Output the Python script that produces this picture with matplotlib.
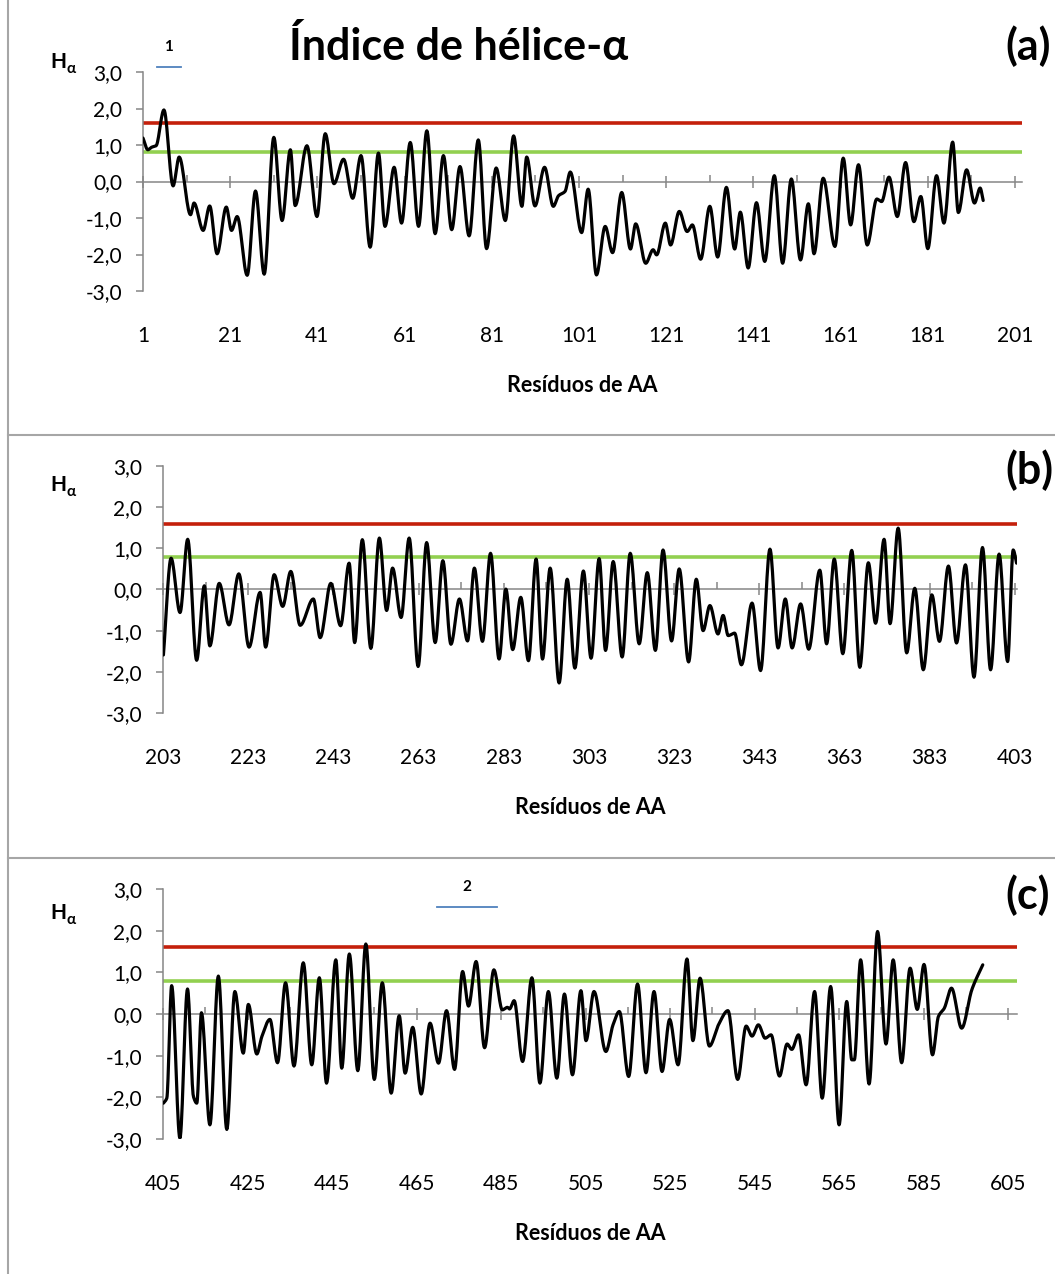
import numpy as np
import matplotlib
matplotlib.use("Agg")
import matplotlib.pyplot as plt
from matplotlib.lines import Line2D
from matplotlib.ticker import FixedLocator

plt.rcParams["font.family"] = ["Lato", "DejaVu Sans"]

# ---- data (peaks / troughs of the smoothed profile) ----
res_a = [1, 2.1, 3.0, 4.0, 5.8, 7.9, 9.3, 11.9, 12.7, 14.8, 16.3, 18.0, 20.1, 21.3, 22.6,
         24.9, 26.8, 28.8, 31.0, 32.9, 34.8, 35.9, 38.6, 40.9, 42.8, 44.8, 47.0, 49.1,
         51.0, 53.1, 55.0, 56.5, 58.6, 60.3, 62.3, 64.2, 66.1, 68.0, 69.9, 71.8, 73.7,
         75.8, 77.9, 79.8, 82.0, 84.1, 86.0, 87.9, 89.0, 90.9, 93.1, 95.1, 96.3, 97.8,
         99.0, 101.6, 103.1, 105.0, 107.0, 108.7, 110.8, 112.8, 114.0, 116.3, 118.0,
         118.8, 120.8, 122.0, 124.0, 125.8, 127.0, 128.9, 131.0, 132.8, 134.8, 136.7,
         138.0, 139.8, 141.7, 143.6, 145.8, 147.7, 149.7, 151.8, 153.6, 154.9, 157.0,
         159.7, 161.6, 163.3, 165.1, 167.1, 169.3, 170.4, 172.1, 174.0, 175.9, 177.8,
         179.4, 181.0, 183.0, 184.7, 186.7, 188.0, 189.9, 191.7, 193.0, 193.7]
h_a = [1.19, 0.87, 0.94, 0.98, 1.96, -0.12, 0.67, -0.91, -0.59, -1.34, -0.67, -1.98,
       -0.70, -1.34, -0.96, -2.57, -0.26, -2.54, 1.21, -1.07, 0.87, -0.66, 0.98, -0.96,
       1.31, -0.06, 0.61, -0.46, 0.71, -1.80, 0.78, -1.23, 0.39, -1.14, 1.07, -1.23,
       1.39, -1.43, 0.71, -1.32, 0.41, -1.49, 1.14, -1.84, 0.37, -1.07, 1.25, -0.68,
       0.67, -0.67, 0.39, -0.68, -0.39, -0.27, 0.26, -1.40, -0.21, -2.56, -1.23, -1.95,
       -0.30, -1.85, -1.16, -2.24, -1.87, -2.01, -1.14, -1.74, -0.82, -1.37, -1.19,
       -2.13, -0.68, -2.07, -0.16, -1.85, -0.84, -2.37, -0.58, -2.19, 0.16, -2.24, 0.07,
       -2.15, -0.61, -1.98, 0.09, -1.78, 0.64, -1.19, 0.46, -1.74, -0.48, -0.55, 0.12,
       -0.96, 0.52, -1.10, -0.41, -1.84, 0.16, -1.14, 1.08, -0.85, 0.32, -0.59, -0.18,
       -0.52]

res_b = [203.1, 204.9, 207.0, 208.8, 210.9, 212.7, 214.0, 216.2, 218.5, 220.8, 223.2,
         225.8, 227.1, 229.1, 231.1, 233.0, 235.2, 238.3, 239.9, 242.4, 244.7, 246.7,
         248.0, 249.8, 251.8, 253.8, 255.5, 256.9, 258.9, 260.8, 262.9, 264.9, 266.9,
         268.7, 270.6, 272.6, 274.5, 276.1, 278.0, 279.9, 281.9, 283.5, 285.1, 287.0,
         288.8, 290.6, 292.1, 293.9, 296.0, 297.9, 299.7, 301.7, 303.5, 305.4, 306.9,
         308.7, 310.8, 312.7, 314.8, 316.7, 318.6, 320.4, 322.4, 324.2, 326.4, 328.2,
         329.8, 331.4, 333.3, 334.5, 335.7, 337.2, 338.8, 341.3, 343.3, 345.5, 347.4,
         349.1, 350.7, 352.7, 354.6, 357.2, 358.8, 360.6, 362.6, 364.7, 366.6, 368.6,
         370.3, 372.3, 373.7, 375.6, 377.6, 379.5, 381.5, 383.5, 385.3, 387.4, 389.3,
         391.4, 393.4, 395.4, 397.3, 399.3, 401.3, 402.6, 403.4]
h_b = [-1.59, 0.76, -0.56, 1.22, -1.72, 0.09, -1.37, 0.15, -0.86, 0.38, -1.40, -0.07,
       -1.40, 0.36, -0.41, 0.44, -0.87, -0.23, -1.17, 0.15, -0.88, 0.64, -1.29, 1.21,
       -1.43, 1.25, -0.51, 0.52, -0.68, 1.25, -1.87, 1.14, -1.29, 0.70, -1.33, -0.23,
       -1.25, 0.52, -1.26, 0.88, -1.69, 0.01, -1.46, -0.19, -1.73, 0.74, -1.69, 0.52,
       -2.27, 0.25, -1.91, 0.45, -1.67, 0.75, -1.48, 0.68, -1.64, 0.88, -1.32, 0.41,
       -1.48, 0.96, -1.25, 0.50, -1.76, 0.25, -1.00, -0.39, -1.08, -0.63, -1.12, -1.06,
       -1.83, -0.33, -1.97, 0.98, -1.42, -0.23, -1.42, -0.35, -1.45, 0.47, -1.32, 0.74,
       -1.56, 0.95, -1.89, 0.65, -0.82, 1.22, -0.83, 1.49, -1.54, 0.03, -1.95, -0.13,
       -1.26, 0.57, -1.30, 0.60, -2.13, 1.02, -1.95, 0.86, -1.75, 0.96, 0.64]

res_c = [405.1, 405.9, 407.05, 409.0, 410.8, 412.2, 413.0, 414.1, 416.1, 418.1, 420.1,
         422.0, 424.0, 425.2, 427.2, 428.4, 430.3, 432.1, 434.0, 436.0, 438.2, 440.2,
         442.0, 443.7, 445.9, 447.3, 449.1, 451.1, 453.0, 455.0, 456.9, 459.0, 460.9,
         462.3, 464.1, 466.1, 468.2, 470.2, 472.1, 474.0, 475.9, 477.3, 479.1, 481.1,
         483.3, 485.3, 486.5, 487.0, 488.1, 490.1, 492.3, 494.2, 496.2, 498.2, 500.0,
         501.9, 503.9, 505.1, 507.0, 509.8, 511.5, 513.0, 515.2, 517.3, 519.3, 521.2,
         523.1, 524.9, 526.9, 529.0, 530.4, 532.1, 534.3, 536.5, 538.7, 541.0, 543.0,
         544.4, 545.9, 547.5, 548.9, 550.9, 552.7, 553.8, 555.4, 557.2, 559.2, 561.0,
         563.0, 565.0, 566.8, 568.0, 568.6, 570.1, 572.1, 574.1, 576.1, 577.8, 579.8,
         581.8, 583.5, 585.1, 587.1, 588.5, 589.9, 591.6, 594.0, 596.4, 599.0]
h_c = [-2.14, -2.02, 0.68, -2.98, 0.60, -1.98, -2.14, 0.03, -2.66, 0.91, -2.77, 0.54,
       -0.94, 0.23, -0.96, -0.54, -0.13, -1.17, 0.75, -1.25, 1.23, -1.22, 0.87, -1.66,
       1.30, -1.30, 1.44, -1.36, 1.68, -1.57, 0.75, -1.90, -0.04, -1.42, -0.32, -1.92,
       -0.22, -1.18, 0.08, -1.33, 1.02, 0.19, 1.26, -0.81, 1.06, 0.10, 0.16, 0.12, 0.32,
       -1.14, 0.87, -1.66, 0.54, -1.54, 0.48, -1.46, 0.56, -0.64, 0.54, -0.90, -0.26,
       0.06, -1.50, 0.72, -1.41, 0.54, -1.38, -0.13, -1.22, 1.32, -0.64, 0.86, -0.77,
       -0.25, 0.08, -1.57, -0.29, -0.53, -0.26, -0.58, -0.50, -1.49, -0.72, -0.85, -0.50,
       -1.70, 0.54, -2.02, 0.66, -2.66, 0.30, -1.10, -1.10, 1.30, -1.68, 1.98, -0.72,
       1.30, -1.17, 1.10, 0.11, 1.19, -0.98, -0.06, 0.14, 0.62, -0.34, 0.58, 1.18]

red_level = 1.6
green_level = 0.8
ytick_vals = [-3, -2, -1, 0, 1, 2, 3]

# helix segments marked above the plots (residue span, height, label)
seg1_span, seg1_h, seg1_label = [4.1, 9.7], 3.14, "1"
seg2_span, seg2_h, seg2_label = [469.9, 484.0], 2.57, "2"

RED, GREEN, BLUE, GRAY = "#C4200B", "#92D050", "#4F81BD", "#868686"
W, H = 1055, 1274


def smooth(x, y, n=16):
    """Monotone cubic (PCHIP-like) through the read points, like Excel's smoothed line."""
    x = np.asarray(x, float); y = np.asarray(y, float)
    h = np.diff(x); d = np.diff(y) / h
    m = np.zeros_like(y)
    m[0], m[-1] = d[0], d[-1]
    for i in range(1, len(y) - 1):
        if d[i - 1] * d[i] > 0:
            w1, w2 = 2 * h[i] + h[i - 1], h[i] + 2 * h[i - 1]
            m[i] = (w1 + w2) / (w1 / d[i - 1] + w2 / d[i])
    xs, ys = [], []
    t = np.linspace(0, 1, n, endpoint=False)
    for i in range(len(h)):
        h00 = 2 * t**3 - 3 * t**2 + 1; h10 = t**3 - 2 * t**2 + t
        h01 = -2 * t**3 + 3 * t**2; h11 = t**3 - t**2
        xs.append(x[i] + t * h[i])
        ys.append(h00 * y[i] + h10 * h[i] * m[i] + h01 * y[i + 1] + h11 * h[i] * m[i + 1])
    xs.append([x[-1]]); ys.append([y[-1]])
    return np.concatenate(xs), np.concatenate(ys)


def px(x0, y0, x1, y1):
    """pixel box (left, top, right, bottom) -> figure-fraction rect"""
    return [x0 / W, 1 - y1 / H, (x1 - x0) / W, (y1 - y0) / H]


fig = plt.figure(figsize=(W / 100, H / 100), dpi=100)
fig.patch.set_facecolor("white")

panels = [
    (px(143, 72, 1022, 291), res_a, h_a, (1, 202.6), 1, "(a)", 46),
    (px(163, 466, 1017, 713), res_b, h_b, (203, 403.5), 203, "(b)", 470),
    (px(163, 889, 1017, 1139), res_c, h_c, (405, 607.1), 405, "(c)", 895),
]

axes = []
for rect, xs, ys, xlim, start, tag, tag_y in panels:
    ax = fig.add_axes(rect)
    axes.append(ax)
    ax.axhline(red_level, color=RED, lw=2.6, zorder=2)
    ax.axhline(green_level, color=GREEN, lw=2.6, zorder=2)
    sx, sy = smooth(xs, ys)
    ax.plot(sx, sy, color="black", lw=2.3, zorder=3, solid_capstyle="round")
    ax.set_xlim(*xlim)
    ax.set_ylim(-3, 3)

    for s in ("top", "right"):
        ax.spines[s].set_visible(False)
    ax.spines["left"].set_color(GRAY)
    ax.spines["left"].set_linewidth(1.1)
    ax.spines["bottom"].set_position(("data", 0))
    ax.spines["bottom"].set_color(GRAY)
    ax.spines["bottom"].set_linewidth(1.1)
    ax.spines["bottom"].set_zorder(1)

    ax.set_yticks(ytick_vals)
    ax.set_yticklabels([f"{v:.1f}".replace(".", ",") for v in ytick_vals])
    ax.tick_params(axis="y", direction="out", length=5, width=1.1, color=GRAY,
                   pad=10, labelsize=15)

    major = list(range(start, start + 201, 20))
    minor = list(range(start + 10, start + 200, 20))
    ax.set_xticks(major)
    ax.xaxis.set_minor_locator(FixedLocator(minor))
    ax.tick_params(axis="x", which="major", direction="inout", length=9, width=1.1,
                   color=GRAY, labelbottom=False)
    ax.tick_params(axis="x", which="minor", direction="in", length=5, width=1.1,
                   color=GRAY)

    sec = ax.secondary_xaxis("bottom")
    sec.set_xticks(major)
    sec.set_xticklabels([str(v) for v in major])
    sec.spines["bottom"].set_visible(False)
    sec.tick_params(length=0, pad=25, labelsize=15)

    ax.annotate("Resíduos de AA", xy=(0.5, 0), xycoords="axes fraction",
                xytext=(0, -95 * 0.72), textcoords="offset points",
                ha="center", va="center", fontsize=15.5, fontweight="bold")

    fig.text(1005 / W, 1 - tag_y / H, tag, ha="left", va="center",
             fontsize=31, fontweight="bold")

# H-alpha axis labels
for hy in (62, 485, 913):
    fig.text(58 / W, 1 - hy / H, "H", ha="center", va="center",
             fontsize=15, fontweight="bold")
    fig.text(71 / W, 1 - (hy + 7) / H, "α", ha="center", va="center",
             fontsize=11, fontweight="bold")

# helix segment markers
for ax, span, hgt, lab in ((axes[0], seg1_span, seg1_h, seg1_label),
                           (axes[2], seg2_span, seg2_h, seg2_label)):
    ax.plot(span, [hgt, hgt], color=BLUE, lw=1.3, clip_on=False, zorder=4)
    ax.annotate(lab, xy=(np.mean(span), hgt), xycoords="data",
                xytext=(0, 14), textcoords="offset points",
                ha="center", va="center", fontsize=11, fontweight="bold",
                annotation_clip=False)

fig.text(459 / W, 1 - 46 / H, "Índice de hélice-α", ha="center", va="center",
         fontsize=31, fontweight="bold")

# chart frames (three stacked chart boxes, right side cut off)
frame = dict(color="#A6A6A6", lw=1.5)
fig.add_artist(Line2D([8 / W, 8 / W], [0, 1], **frame))
for yy in (435, 858):
    fig.add_artist(Line2D([8 / W, 1], [1 - yy / H, 1 - yy / H], **frame))

fig.savefig("out.png", dpi=100)
